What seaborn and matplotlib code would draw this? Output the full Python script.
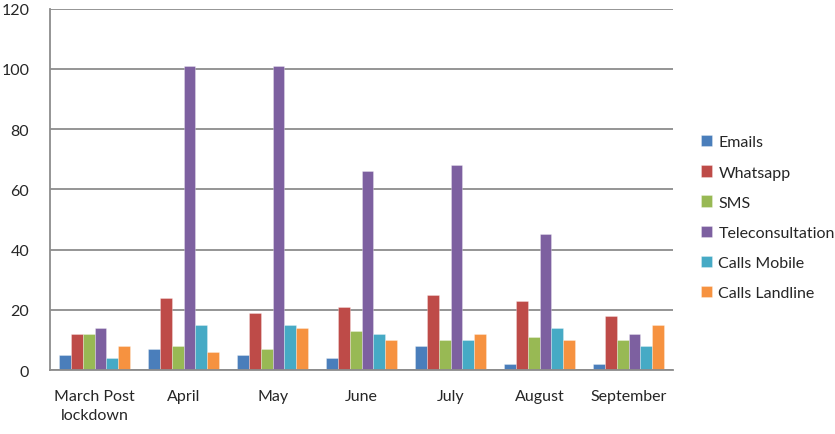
import pandas as pd
import matplotlib
matplotlib.use("Agg")
import matplotlib.pyplot as plt
import seaborn as sns
import numpy as np

# === Data ===
months = ["March Post\nlockdown", "April", "May", "June", "July", "August", "September"]
emails = [5, 7, 5, 4, 8, 2, 2]
whatsapp = [12, 24, 19, 21, 25, 23, 18]
sms = [12, 8, 7, 13, 10, 11, 10]
teleconsultation = [14, 101, 101, 66, 68, 45, 12]
calls_mobile = [4, 15, 15, 12, 10, 14, 8]
calls_landline = [8, 6, 14, 10, 12, 10, 15]

series = {
    "Emails": emails,
    "Whatsapp": whatsapp,
    "SMS": sms,
    "Teleconsultation": teleconsultation,
    "Calls Mobile": calls_mobile,
    "Calls Landline": calls_landline,
}
colors = ["#4A7EBB", "#BE4B48", "#98B954", "#7D60A0", "#46AAC5", "#F69240"]

rows = []
for name, vals in series.items():
    for m, v in zip(months, vals):
        rows.append({"month": m, "channel": name, "count": v})
df = pd.DataFrame(rows)

# === Plot ===
sns.set_style("white")
plt.rcParams["font.family"] = ["Lato", "DejaVu Sans"]

fig = plt.figure(figsize=(8.35, 4.35), dpi=100)
ax = fig.add_axes([0.06, 0.147, 0.746, 0.831])

sns.barplot(data=df, x="month", y="count", hue="channel", order=months,
            hue_order=list(series.keys()), palette=colors, width=0.8,
            saturation=1, ax=ax, linewidth=0.6, edgecolor="#ffffff55")

ax.set_ylim(0, 120)
ax.set_xlim(-0.5, len(months) - 0.5)
ax.set_yticks(range(0, 121, 20))
ax.yaxis.grid(True, color="#8c8c8c", linewidth=1.3)
ax.set_axisbelow(True)
ax.set_xlabel("")
ax.set_ylabel("")

for s in ["top", "right"]:
    ax.spines[s].set_visible(False)
for s in ["left", "bottom"]:
    ax.spines[s].set_color("#8c8c8c")
    ax.spines[s].set_linewidth(1.3)

ax.tick_params(axis="x", which="major", length=0, pad=14, labelsize=11.5)
for lbl in ax.get_xticklabels():
    lbl.set_linespacing(1.45)
ax.set_xticks(np.arange(-0.5, len(months), 1), minor=True)
ax.tick_params(axis="x", which="minor", length=5, color="#8c8c8c", width=1.3)
ax.tick_params(axis="y", length=5, color="#8c8c8c", width=1.3, labelsize=11.5, pad=10)

handles, labels = ax.get_legend_handles_labels()
ax.legend_.remove()
fig.legend(handles, labels, loc="upper left", bbox_to_anchor=(0.822, 0.72),
           frameon=False, fontsize=11.5, handlelength=0.7, handleheight=0.7,
           handletextpad=0.4, labelspacing=1.0)

fig.savefig("out.png", dpi=100)
